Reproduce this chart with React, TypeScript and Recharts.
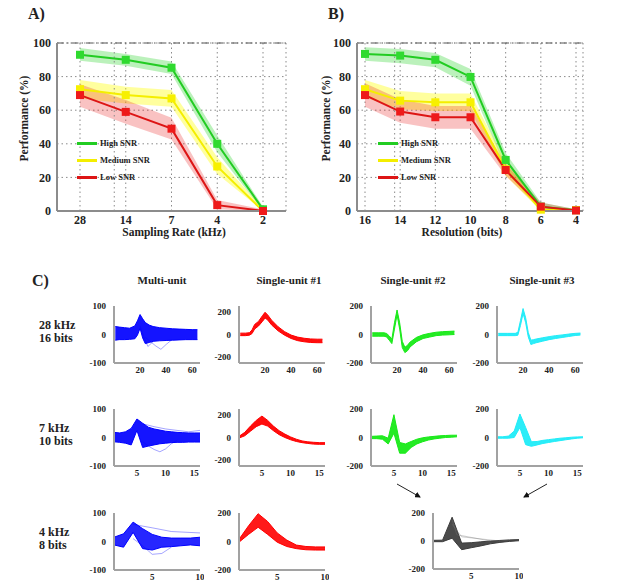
import React from 'react';
import { ComposedChart, Line, Area, XAxis, YAxis, CartesianGrid, ReferenceLine, Legend } from 'recharts';

const FONT = "'Liberation Serif', 'DejaVu Serif', serif";

// ---------- Panel A : sampling rate ----------
const rateCats = ['28', '14', '7', '4', '2'];
const rateHigh = [93, 90, 85.3, 40, 1];
const rateHighLo = [89.5, 86.5, 81.5, 35, 0];
const rateHighHi = [97, 93.5, 89, 45, 2.5];
const rateMed = [72.5, 69, 67, 26.5, 0];
const rateMedLo = [67, 64, 62, 22, 0];
const rateMedHi = [78, 74, 72, 32, 1.5];
const rateLow = [69, 59, 49, 3.5, 0];
const rateLowLo = [62, 52, 42.5, 1, 0];
const rateLowHi = [75.5, 66, 55.5, 6.5, 1];

// ---------- Panel B : resolution ----------
const resCats = ['16', '14', '12', '10', '8', '6', '4'];
const resHigh = [93.5, 92.5, 90, 79.8, 30.4, 2.6, 0.5];
const resHighLo = [89.5, 88, 85.5, 74.6, 25.5, 0.5, 0];
const resHighHi = [97.5, 96.5, 94, 84.5, 34.5, 5, 1];
const resMed = [72.5, 65.7, 64.7, 64.7, 24.8, 0.8, 0.5];
const resMedLo = [67.5, 60.5, 59.5, 59.5, 21, 0, 0];
const resMedHi = [78, 71.5, 70, 70, 29, 3, 1];
const resLow = [69, 59.2, 55.8, 55.8, 24.4, 2.6, 0.3];
const resLowLo = [62, 52.5, 49, 49, 21, 1, 0];
const resLowHi = [76, 66.5, 62.5, 62.5, 28, 5, 1];

const seriesNames = ['High SNR', 'Medium SNR', 'Low SNR'];

// ---------- Panel C : waveforms ----------
// Multi-unit
const mu1X = [1, 4, 8, 12, 16, 18, 20, 22, 24, 27, 30, 35, 40, 45, 50, 55, 60, 64];
const mu1Hi = [28, 26, 24, 22, 30, 48, 70, 55, 42, 33, 28, 24, 22, 20, 19, 18, 17, 17];
const mu1Lo = [-20, -18, -18, -17, -15, -2, 22, -12, -32, -28, -24, -22, -21, -20, -19, -18, -18, -18];
const mu1OutAX = [24, 28, 32, 36, 40, 44];
const mu1OutAY = [-10, -25, -40, -52, -35, -20];
const mu1OutBX = [20, 23, 26, 30];
const mu1OutBY = [30, -10, -42, -25];

const mu2X = [1, 2, 3, 4, 5, 6, 7, 8, 9, 10, 11, 12, 13, 14, 15, 16];
const mu2Hi = [18, 16, 20, 32, 65, 50, 36, 30, 26, 22, 20, 18, 17, 16, 16, 16];
const mu2Lo = [-15, -17, -20, -26, 25, -35, -30, -26, -22, -20, -18, -17, -17, -16, -16, -16];
const mu2OutAX = [6, 7, 8, 9, 10, 11, 12];
const mu2OutAY = [-15, -30, -42, -50, -40, -22, -10];
const mu2OutBX = [6, 8, 10, 12, 14, 16];
const mu2OutBY = [48, 38, 30, 25, 20, 25];

const mu3X = [1, 2, 3, 4, 5, 6, 7, 8, 9, 10];
const mu3Hi = [15, 27, 68, 45, 25, 15, 12, 12, 12, 15];
const mu3Lo = [-12, -20, 32, -25, -30, -20, -18, -15, -12, -15];
const mu3OutAX = [3, 4, 5, 6, 7];
const mu3OutAY = [10, -15, -45, -42, -20];
const mu3OutBX = [3, 5, 7, 10];
const mu3OutBY = [60, 48, 35, 30];

// Single-unit #1
const su1aX = [1, 5, 8, 10, 12, 15, 18, 20, 22, 25, 30, 35, 40, 45, 50, 55, 60, 64];
const su1aHi = [12, 12, 16, 40, 88, 115, 165, 195, 172, 126, 68, 25, -5, -23, -33, -39, -41, -41];
const su1aLo = [-10, -10, -6, 8, 48, 75, 115, 145, 128, 84, 32, -6, -35, -54, -64, -70, -72, -72];

const su1bX = [1, 2, 3, 4, 5, 6, 7, 8, 9, 10, 11, 12, 13, 14, 15, 16];
const su1bHi = [10, 45, 100, 150, 188, 150, 100, 60, 30, 5, -15, -30, -38, -42, -45, -45];
const su1bLo = [-5, 15, 55, 95, 118, 100, 60, 25, 0, -20, -35, -45, -52, -58, -60, -60];

const su1cX = [1, 2, 3, 4, 5, 6, 7, 8, 9, 10];
const su1cHi = [15, 110, 195, 140, 60, 10, -25, -35, -38, -38];
const su1cLo = [-5, 50, 100, 50, -5, -35, -50, -58, -60, -60];

// Single-unit #2
const su2aX = [1, 6, 10, 12, 14, 16, 18, 20, 22, 24, 26, 28, 30, 35, 40, 45, 50, 55, 60, 64];
const su2aHi = [12, 12, 12, 7, -10, -33, 82, 172, 82, -48, -90, -76, -53, -20, -2, 8, 16, 20, 22, 24];
const su2aLo = [-12, -12, -12, -17, -40, -64, 38, 138, 38, -92, -127, -114, -87, -50, -28, -18, -8, -4, -2, 0];

const su2bX = [1, 2, 3, 4, 5, 6, 7, 8, 9, 10, 11, 12, 13, 14, 15, 16];
const su2bHi = [8, 10, 12, -5, 160, -35, -45, -28, -12, -2, 4, 8, 12, 14, 16, 16];
const su2bLo = [-8, -8, -12, -45, 30, -110, -110, -70, -45, -30, -18, -10, -5, 0, 2, 5];

// Single-unit #3
const su3aX = [1, 8, 14, 16, 18, 20, 22, 24, 26, 28, 30, 35, 40, 45, 50, 55, 60, 64];
const su3aHi = [8, 8, 8, 15, 97, 182, 117, 14, -40, -36, -32, -23, -15, -8, -3, 3, 8, 10];
const su3aLo = [-8, -8, -8, -5, 63, 148, 83, -17, -70, -64, -58, -47, -36, -28, -21, -14, -7, -4];

const su3bX = [1, 2, 3, 4, 5, 6, 7, 8, 9, 10, 11, 12, 13, 14, 15, 16];
const su3bHi = [5, 5, 10, 45, 165, 70, -30, -28, -20, -15, -10, -5, -2, 2, 4, 5];
const su3bLo = [-5, -5, -5, 0, 70, -50, -62, -52, -42, -35, -28, -22, -16, -10, -5, -2];

// Merged #2 + #3 at 4 kHz / 8 bits
const grX = [1, 2, 3, 4, 5, 6, 7, 8, 9, 10];
const grHi = [5, 6, 170, -15, -12, -6, 0, 4, 8, 10];
const grLo = [-5, -5, 20, -62, -48, -35, -20, -10, -3, 2];
const grOutAX = [3, 3.5, 7];
const grOutAY = [150, 45, 0];
const grOutBX = [3, 4, 8];
const grOutBY = [120, 30, 0];

const rowLabels = [['28 kHz', '16 bits'], ['7 kHz', '10 bits'], ['4 kHz', '8 bits']];
const colTitles = ['Multi-unit', 'Single-unit #1', 'Single-unit #2', 'Single-unit #3'];

// ---------- helpers ----------
const mkBand = (xs: number[], lo: number[], hi: number[]) => xs.map((x, i) => ({ x, r: [lo[i], hi[i]] }));
const mkLine = (xs: number[], ys: number[]) => xs.map((x, i) => ({ x, y: ys[i] }));

function perfRows(cats: string[], h: number[], hl: number[], hh: number[], m: number[], ml: number[], mh: number[], l: number[], ll: number[], lh: number[]) {
  return cats.map((c, i) => ({
    cat: c,
    high: h[i], hBand: [hl[i], hh[i]],
    med: m[i], mBand: [ml[i], mh[i]],
    low: l[i], lBand: [ll[i], lh[i]],
  }));
}

const rateData = perfRows(rateCats, rateHigh, rateHighLo, rateHighHi, rateMed, rateMedLo, rateMedHi, rateLow, rateLowLo, rateLowHi);
const resData = perfRows(resCats, resHigh, resHighLo, resHighHi, resMed, resMedLo, resMedHi, resLow, resLowLo, resLowHi);

const GREEN = '#22cc22';
const YELLOW = '#f4ee00';
const RED = '#dd1515';

const squareDot = (fill: string) => (props: any) => {
  const { cx, cy, index } = props;
  if (cx == null || cy == null) return <g key={index} />;
  return <rect key={index} x={cx - 4} y={cy - 4} width={8} height={8} fill={fill} />;
};

const legendContent = (props: any) => {
  const items = (props.payload || [])
    .filter((p: any) => seriesNames.indexOf(p.value) >= 0)
    .slice()
    .sort((a: any, b: any) => seriesNames.indexOf(a.value) - seriesNames.indexOf(b.value));
  return (
    <div style={{ fontFamily: FONT, fontWeight: 700, fontSize: 8.5, color: '#222' }}>
      {items.map((p: any, i: number) => (
        <div key={i} style={{ display: 'flex', alignItems: 'center', height: 17 }}>
          <div style={{ width: 20, height: 3, background: p.color, marginRight: 3 }} />
          <span>{p.value}</span>
        </div>
      ))}
    </div>
  );
};

function PerfChart({ left, width, marginRight, data, padding, xLabel, xLabelShift, yLabelX, legendLeft }: any) {
  const tickStyle = { fontFamily: FONT, fontWeight: 700, fontSize: 12, fill: '#222' };
  return (
    <div style={{ position: 'absolute', left, top: 0 }}>
      <ComposedChart width={width} height={250} data={data} margin={{ top: 43, right: marginRight, left: 0, bottom: 0 }}>
        <CartesianGrid stroke="#8a8a8a" strokeDasharray="1.5 3" />
        <XAxis
          dataKey="cat" scale="point" type="category" padding={padding} interval={0}
          axisLine={{ stroke: '#8c8c8c', strokeWidth: 2 }} tickLine={false} tickSize={2} tickMargin={2}
          height={39} tick={tickStyle}
          label={{
            content: (p: any) => {
              const vb = p.viewBox || {};
              return (
                <text x={vb.x + vb.width / 2 + xLabelShift} y={vb.y + 21} textAnchor="middle" dominantBaseline="central"
                  style={{ fontFamily: FONT, fontWeight: 700, fontSize: 11.5, fill: '#222' }}>{xLabel}</text>
              );
            },
          }}
        />
        <XAxis xAxisId="frame" type="number" domain={[0, 1]} hide />
        <YAxis
          domain={[0, 100]} ticks={[0, 20, 40, 60, 80, 100]} interval={0} width={57}
          axisLine={{ stroke: '#8c8c8c', strokeWidth: 2 }} tickLine={false} tickSize={4} tickMargin={2}
          tick={tickStyle}
          label={{
            content: (p: any) => {
              const vb = p.viewBox || {};
              const cx = vb.x + yLabelX;
              const cy = vb.y + vb.height / 2 - 8.5;
              return (
                <text x={cx} y={cy} transform={`rotate(-90 ${cx} ${cy})`} textAnchor="middle" dominantBaseline="central"
                  style={{ fontFamily: FONT, fontWeight: 700, fontSize: 11.5, fill: '#222' }}>Performance (%)</text>
              );
            },
          }}
        />
        <ReferenceLine y={100} stroke="#555" strokeWidth={1} strokeDasharray="7 3 1.5 3" />
        <ReferenceLine xAxisId="frame" x={1} stroke="#8a8a8a" strokeDasharray="1.5 3" />
        <Area dataKey="hBand" type="linear" stroke="none" fill="#1ed21e" fillOpacity={0.3} legendType="none" isAnimationActive={false} activeDot={false} />
        <Area dataKey="mBand" type="linear" stroke="none" fill="#ffff00" fillOpacity={0.38} legendType="none" isAnimationActive={false} activeDot={false} />
        <Area dataKey="lBand" type="linear" stroke="none" fill="#e81e1e" fillOpacity={0.27} legendType="none" isAnimationActive={false} activeDot={false} />
        <Line dataKey="high" name={seriesNames[0]} type="linear" stroke={GREEN} strokeWidth={2} dot={squareDot('#2fda2f')} activeDot={false} isAnimationActive={false} />
        <Line dataKey="med" name={seriesNames[1]} type="linear" stroke={YELLOW} strokeWidth={2} dot={squareDot('#f7f000')} activeDot={false} isAnimationActive={false} />
        <Line dataKey="low" name={seriesNames[2]} type="linear" stroke={RED} strokeWidth={2} dot={squareDot('#ee1a1a')} activeDot={false} isAnimationActive={false} />
        <Legend layout="vertical" align="center" verticalAlign="middle" content={legendContent}
          wrapperStyle={{ left: legendLeft, top: 134.5, width: 90, height: 51, margin: 0 }} />
      </ComposedChart>
    </div>
  );
}

const smallTick = { fontFamily: FONT, fontWeight: 700, fontSize: 9, fill: '#222' };
const smallAxis = { stroke: '#a2a2a2', strokeWidth: 2 };

function Wave({ left, top, w, h, xDomain, xTicks, yDomain, yTicks, band, color, opacity, outliers, outColor }: any) {
  return (
    <div style={{ position: 'absolute', left: left - 30, top: top - 5 }}>
      <ComposedChart width={30 + w + 4} height={5 + h + 18} margin={{ top: 5, right: 4, left: 0, bottom: 0 }}>
        <XAxis type="number" dataKey="x" domain={xDomain} ticks={xTicks} interval={0} allowDataOverflow height={18}
          axisLine={smallAxis} tickLine={false} tickSize={2} tickMargin={2} tick={smallTick} />
        <YAxis type="number" domain={yDomain} ticks={yTicks} interval={0} allowDataOverflow width={30}
          axisLine={smallAxis} tickLine={false} tickSize={4} tickMargin={4} tick={smallTick} />
        <Area data={band} dataKey="r" type="linear" stroke={color} strokeWidth={1} fill={color} fillOpacity={opacity}
          isAnimationActive={false} activeDot={false} />
        {(outliers || []).map((o: any, i: number) => (
          <Line key={i} data={o} dataKey="y" type="linear" stroke={outColor || color} strokeOpacity={0.45} strokeWidth={0.8}
            dot={false} activeDot={false} isAnimationActive={false} />
        ))}
      </ComposedChart>
    </div>
  );
}

const BLUE = '#0000ff';
const WRED = '#ff0000';
const WGREEN = '#18ea18';
const CYAN = '#20ecf8';
const GRAY = '#3c3c3c';

const colX = [114, 239, 371, 497];
const rowTop = [306, 409, 513];
const PW = 86;
const PH = 57;
const xRow = [
  { domain: [0, 66], ticks: [20, 40, 60] },
  { domain: [1, 16], ticks: [5, 10, 15] },
  { domain: [1, 10], ticks: [5, 10] },
];

const textStyle: any = { position: 'absolute', fontFamily: FONT, fontWeight: 700, color: '#222', whiteSpace: 'nowrap' };

export default function App() {
  const muY = { domain: [-100, 100], ticks: [-100, 0, 100] };
  const su250 = { domain: [-250, 250], ticks: [-200, 0, 200] };
  const su200 = { domain: [-200, 200], ticks: [-200, 0, 200] };
  const panels = [
    { c: 0, r: 0, band: mkBand(mu1X, mu1Lo, mu1Hi), color: BLUE, op: 0.92, y: muY, out: [mkLine(mu1OutAX, mu1OutAY), mkLine(mu1OutBX, mu1OutBY)] },
    { c: 0, r: 1, band: mkBand(mu2X, mu2Lo, mu2Hi), color: BLUE, op: 0.92, y: muY, out: [mkLine(mu2OutAX, mu2OutAY), mkLine(mu2OutBX, mu2OutBY)] },
    { c: 0, r: 2, band: mkBand(mu3X, mu3Lo, mu3Hi), color: BLUE, op: 0.85, y: muY, out: [mkLine(mu3OutAX, mu3OutAY), mkLine(mu3OutBX, mu3OutBY)] },
    { c: 1, r: 0, band: mkBand(su1aX, su1aLo, su1aHi), color: WRED, op: 0.95, y: su250 },
    { c: 1, r: 1, band: mkBand(su1bX, su1bLo, su1bHi), color: WRED, op: 0.95, y: su250 },
    { c: 1, r: 2, band: mkBand(su1cX, su1cLo, su1cHi), color: WRED, op: 0.9, y: su200 },
    { c: 2, r: 0, band: mkBand(su2aX, su2aLo, su2aHi), color: WGREEN, op: 0.95, y: su200 },
    { c: 2, r: 1, band: mkBand(su2bX, su2bLo, su2bHi), color: WGREEN, op: 0.95, y: su200 },
    { c: 3, r: 0, band: mkBand(su3aX, su3aLo, su3aHi), color: CYAN, op: 0.95, y: su200 },
    { c: 3, r: 1, band: mkBand(su3bX, su3bLo, su3bHi), color: CYAN, op: 0.95, y: su200 },
  ];

  return (
    <div style={{ position: 'absolute', left: 0, top: 0, width: 620, height: 588, background: '#fff', overflow: 'hidden' }}>
      <div style={{ ...textStyle, left: 28, top: 5, fontSize: 16 }}>A)</div>
      <div style={{ ...textStyle, left: 328, top: 5, fontSize: 16 }}>B)</div>
      <PerfChart left={0} width={300} marginRight={14} data={rateData} padding={{ left: 23, right: 23 }}
        xLabel="Sampling Rate (kHz)" xLabelShift={2.5} yLabelX={24} legendLeft={77} />
      <PerfChart left={300} width={310} marginRight={27} data={resData} padding={{ left: 8, right: 7 }}
        xLabel="Resolution (bits)" xLabelShift={-8} yLabelX={26} legendLeft={78} />

      <div style={{ ...textStyle, left: 32, top: 272, fontSize: 16 }}>C)</div>
      {colTitles.map((t, i) => (
        <div key={t} style={{ ...textStyle, left: [162, 289, 413, 542][i] - 60, width: 120, textAlign: 'center', top: 274, fontSize: 11 }}>{t}</div>
      ))}
      {rowLabels.map((rl, i) => (
        <div key={i} style={{ ...textStyle, left: 39, top: [319, 422, 526][i], fontSize: 12, lineHeight: '13px' }}>
          {rl[0]}<br />{rl[1]}
        </div>
      ))}

      {panels.map((p, i) => (
        <Wave key={i} left={colX[p.c]} top={rowTop[p.r]} w={PW} h={PH}
          xDomain={xRow[p.r].domain} xTicks={xRow[p.r].ticks}
          yDomain={p.y.domain} yTicks={p.y.ticks} band={p.band} color={p.color} opacity={p.op} outliers={p.out} />
      ))}
      <Wave left={433} top={rowTop[2]} w={PW} h={56}
        xDomain={xRow[2].domain} xTicks={xRow[2].ticks} yDomain={[-200, 200]} yTicks={[-200, 0, 200]}
        band={mkBand(grX, grLo, grHi)} color={GRAY} opacity={0.92}
        outliers={[mkLine(grOutAX, grOutAY), mkLine(grOutBX, grOutBY)]} outColor="#777" />

      <svg width={620} height={588} style={{ position: 'absolute', left: 0, top: 0, pointerEvents: 'none' }}>
        <defs>
          <marker id="ah" markerWidth="6" markerHeight="6" refX="5" refY="3" orient="auto" markerUnits="userSpaceOnUse">
            <path d="M0,0 L6,3 L0,6 z" fill="#111" />
          </marker>
        </defs>
        <line x1={397} y1={484} x2={420} y2={497} stroke="#222" strokeWidth={1} markerEnd="url(#ah)" />
        <line x1={547} y1={484} x2={524} y2={497} stroke="#222" strokeWidth={1} markerEnd="url(#ah)" />
      </svg>
    </div>
  );
}
